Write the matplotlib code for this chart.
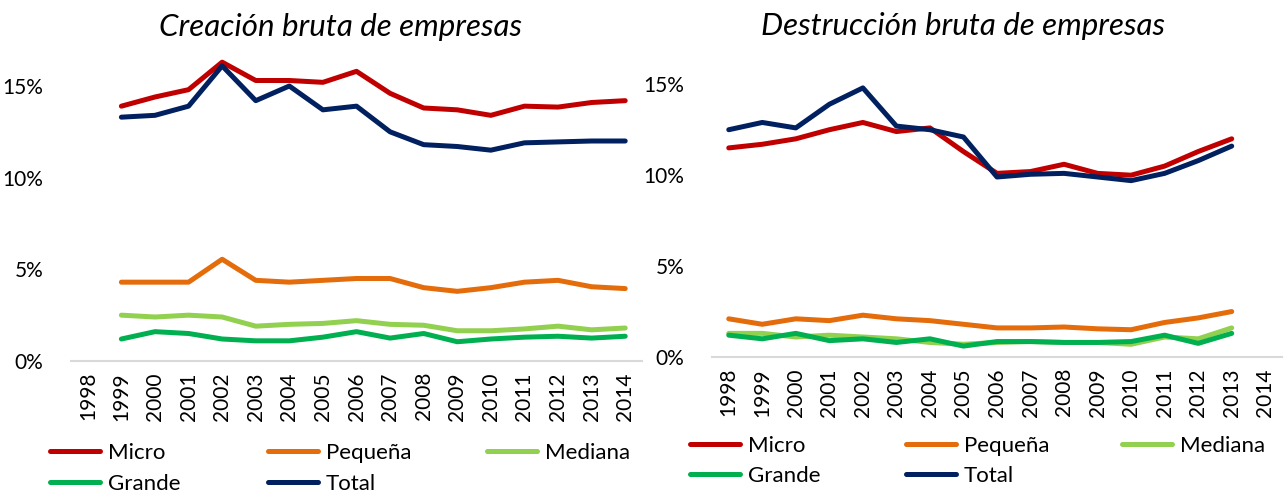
import matplotlib.pyplot as plt
from matplotlib.ticker import FuncFormatter

plt.rcParams['font.family'] = ['Lato', 'DejaVu Sans']

years = [str(y) for y in range(1998, 2015)]
series_names = ['Micro', 'Pequeña', 'Mediana', 'Grande', 'Total']
colors = ['#C00000', '#E46C0A', '#92D050', '#00B050', '#002060']

# creación: 1999-2014 (1998 vacío)
crea_micro = [13.9, 14.4, 14.8, 16.3, 15.3, 15.3, 15.2, 15.8, 14.6, 13.8, 13.7, 13.4, 13.9, 13.85, 14.1, 14.2]
crea_peq = [4.3, 4.3, 4.3, 5.55, 4.4, 4.3, 4.4, 4.5, 4.5, 4.0, 3.8, 4.0, 4.3, 4.4, 4.05, 3.95]
crea_med = [2.5, 2.4, 2.5, 2.4, 1.9, 2.0, 2.05, 2.2, 2.0, 1.95, 1.65, 1.65, 1.75, 1.9, 1.7, 1.8]
crea_gra = [1.2, 1.6, 1.5, 1.2, 1.1, 1.1, 1.3, 1.6, 1.25, 1.5, 1.05, 1.2, 1.3, 1.35, 1.25, 1.35]
crea_tot = [13.3, 13.4, 13.9, 16.1, 14.2, 15.0, 13.7, 13.9, 12.5, 11.8, 11.7, 11.5, 11.9, 11.95, 12.0, 12.0]

# destrucción: 1998-2013 (2014 vacío)
dest_micro = [11.5, 11.7, 12.0, 12.5, 12.9, 12.4, 12.6, 11.3, 10.1, 10.2, 10.6, 10.1, 10.0, 10.5, 11.3, 12.0]
dest_peq = [2.1, 1.8, 2.1, 2.0, 2.3, 2.1, 2.0, 1.8, 1.6, 1.6, 1.65, 1.55, 1.5, 1.9, 2.15, 2.5]
dest_med = [1.3, 1.3, 1.1, 1.2, 1.1, 1.0, 0.8, 0.7, 0.8, 0.85, 0.8, 0.8, 0.7, 1.1, 1.0, 1.6]
dest_gra = [1.2, 1.0, 1.3, 0.9, 1.0, 0.8, 1.0, 0.6, 0.85, 0.85, 0.8, 0.8, 0.85, 1.2, 0.75, 1.3]
dest_tot = [12.5, 12.9, 12.6, 13.9, 14.8, 12.7, 12.5, 12.1, 9.9, 10.05, 10.1, 9.9, 9.7, 10.1, 10.8, 11.6]

W, H = 1284, 493
fig = plt.figure(figsize=(W / 100, H / 100), dpi=100)
ax1 = fig.add_axes([71 / W, 1 - 361 / H, 571 / W, 308 / H])
ax2 = fig.add_axes([712 / W, 1 - 357 / H, 570 / W, 300 / H])


def draw(ax, data, x0, title, ymax, title_x, title_pad):
    for vals, name, c in zip(data, series_names, colors):
        xs = list(range(x0, x0 + len(vals)))
        ax.plot(xs, vals, color=c, lw=3.6, label=name, solid_capstyle='round')
    ax.set_xlim(-0.5, len(years) - 0.5)
    ax.set_ylim(0, ymax)
    ax.set_xticks(range(len(years)))
    ax.set_xticklabels(years, rotation=90, fontsize=15)
    ax.set_yticks([0, 5, 10, 15])
    ax.yaxis.set_major_formatter(FuncFormatter(lambda v, p: f'{v:.0f}%'))
    ax.tick_params(axis='y', length=0, pad=20, labelsize=15)
    ax.tick_params(axis='x', length=0, pad=8)
    for s in ['top', 'right', 'left']:
        ax.spines[s].set_visible(False)
    ax.spines['bottom'].set_color('#D9D9D9')
    ax.spines['bottom'].set_linewidth(1.5)
    ax.set_title(title, fontsize=22.5, style='italic', x=title_x, pad=title_pad)


def legend(ax, x_cols, y_rows):
    h, l = ax.get_legend_handles_labels()
    for i in range(len(h)):
        col, row = i % 3, i // 3
        fig.legend([h[i]], [l[i]], loc='center left',
                   bbox_to_anchor=(x_cols[col] / W, 1 - y_rows[row] / H),
                   frameon=False, fontsize=16, handlelength=2.25, handletextpad=0.35,
                   borderpad=0, borderaxespad=0)


draw(ax1, [crea_micro, crea_peq, crea_med, crea_gra, crea_tot], 1,
     'Creación bruta de empresas', 16.8, 0.472, 12)
draw(ax2, [dest_micro, dest_peq, dest_med, dest_gra, dest_tot], 0,
     'Destrucción bruta de empresas', 16.5, 0.44, 16)

legend(ax1, [50, 268, 487], [453, 484])
legend(ax2, [690, 906, 1122], [446, 476])

fig.savefig('out.png', dpi=100)
